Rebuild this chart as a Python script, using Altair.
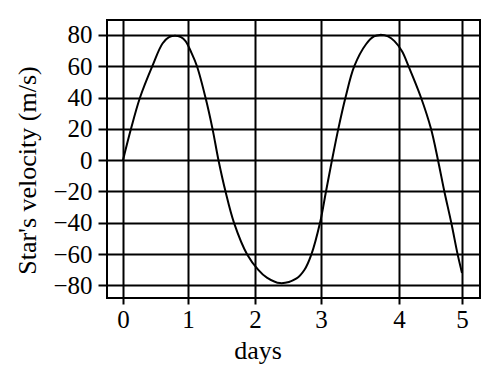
import altair as alt
import pandas as pd

# Curve (days, star's velocity in m/s)
days = [0.00, 0.123, 0.262, 0.451, 0.608, 0.708, 0.80, 0.892, 0.962, 1.052,
        1.134, 1.261, 1.366, 1.455, 1.56, 1.687, 1.881, 2.05, 2.18, 2.38,
        2.63, 2.75, 2.856, 2.985, 3.064, 3.141, 3.222, 3.314, 3.427, 3.577,
        3.679, 3.756, 3.859, 3.942, 4.048, 4.151, 4.349, 4.508, 4.619, 4.72,
        4.83, 4.93, 5.00]
velocity = [0, 20, 40, 60, 74.5, 78.5, 79.5, 78.5, 76, 68.5,
            60, 40, 20, 0, -20, -40, -60, -70, -75, -78.5,
            -75.5, -70, -60, -40, -20, 0, 20, 40, 60, 74,
            79, 80, 79, 76, 69.5, 60, 40, 20, 0, -20,
            -40, -60, -72]

x_ticks = [0, 1, 2, 3, 4, 5]
y_ticks = [-80, -60, -40, -20, 0, 20, 40, 60, 80]

df = pd.DataFrame({"days": days, "velocity": velocity})

serif = "Liberation Serif"

chart = alt.Chart(df).mark_line(
    color="black", strokeWidth=2, interpolate="catmull-rom"
).encode(
    x=alt.X(
        "days:Q",
        scale=alt.Scale(
            domain=[-0.246, 0, 1, 2, 3, 4, 5, 5.286],
            range=[0, 16, 81, 148, 214, 292, 355, 373],
            nice=False, zero=False,
        ),
        axis=alt.Axis(
            values=x_ticks, title="days", tickSize=6, labelPadding=3,
            titleX=150.5, titleY=60, titleAlign="center",
            titleBaseline="alphabetic",
        ),
    ),
    y=alt.Y(
        "velocity:Q",
        scale=alt.Scale(domain=[-88, 89.5], nice=False, zero=False),
        axis=alt.Axis(
            values=y_ticks, title="Star's velocity (m/s)", tickSize=9,
            labelPadding=6,
            labelExpr="datum.value < 0 ? '\u2212' + format(-datum.value, 'd') : format(datum.value, 'd')",
            titleAngle=270, titleX=-72, titleY=150, titleAlign="center",
            titleBaseline="alphabetic",
        ),
    ),
).properties(
    width=373, height=278,
    autosize=alt.AutoSizeParams(type="none"),
    padding={"left": 107, "top": 20, "right": 23, "bottom": 85},
    background="white",
).configure_view(
    stroke="black", strokeWidth=2
).configure_axis(
    grid=True, gridColor="black", gridWidth=2, gridOpacity=1,
    domain=False, tickColor="black", tickWidth=2,
    labelFont=serif, labelFontSize=25, labelColor="black",
    titleFont=serif, titleFontSize=26, titleFontWeight="normal",
    titleColor="black",
)

chart.save("out.html", embed_options={"renderer": "svg", "actions": False})
